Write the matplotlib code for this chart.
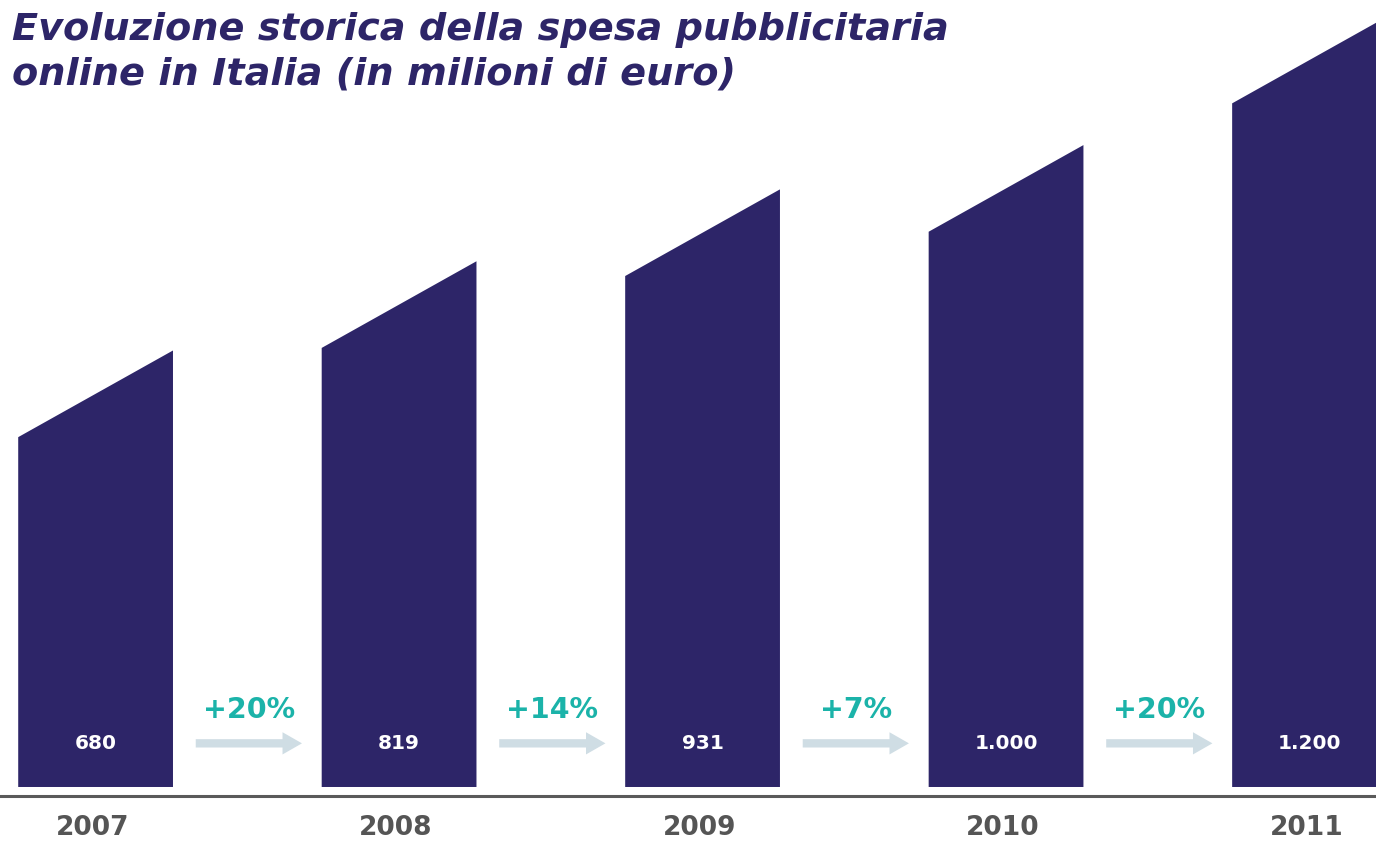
import matplotlib.pyplot as plt

years = ["2007", "2008", "2009", "2010", "2011"]
spend = [680, 819, 931, 1000, 1200]
spend_labels = ["680", "819", "931", "1.000", "1.200"]
growth_labels = ["+20%", "+14%", "+7%", "+20%"]

navy = "#2d2568"
teal = "#1bb3a9"
arrow_col = "#cfdde4"
grey = "#555555"

bar_w = 0.51
slant = 135  # drop of the left corner of each bar top

fig = plt.figure(figsize=(13.76, 8.42), dpi=100)
ax = fig.add_axes([0, 0, 1, 1])
ax.set_xlim(-0.315, 4.219)
ax.set_ylim(-85.7, 1226)
ax.axis("off")

for i, v in enumerate(spend):
    x0, x1 = i - bar_w / 2, i + bar_w / 2
    ax.fill([x0, x1, x1, x0], [0, 0, v, v - slant], color=navy, lw=0)
    ax.text(i, 68, spend_labels[i], color="white", ha="center", va="center",
            fontsize=14.5, fontweight="bold", family="DejaVu Sans")
    ax.text(i - 0.01, -64, years[i], color=grey, ha="center", va="center",
            fontsize=19, fontweight="bold", family="DejaVu Sans")

for i, g in enumerate(growth_labels):
    xc = i + 0.5
    ax.text(xc + 0.005, 120, g, color=teal, ha="center", va="center",
            fontsize=20.5, fontweight="bold", family="DejaVu Sans")
    ax.annotate("", xy=(xc + 0.18, 68), xytext=(xc - 0.17, 68),
                arrowprops=dict(arrowstyle="simple,head_length=14,head_width=16,tail_width=6",
                                mutation_scale=1, color=arrow_col, lw=0,
                                shrinkA=0, shrinkB=0))

ax.axhline(-14, color="#5a5a5a", lw=2.2)

fig.text(0.009, 0.986, "Evoluzione storica della spesa pubblicitaria\nonline in Italia (in milioni di euro)",
         color=navy, fontsize=27.5, fontweight="heavy", style="italic", family="DejaVu Sans",
         ha="left", va="top", linespacing=1.3)

fig.savefig("out.png", dpi=100)
